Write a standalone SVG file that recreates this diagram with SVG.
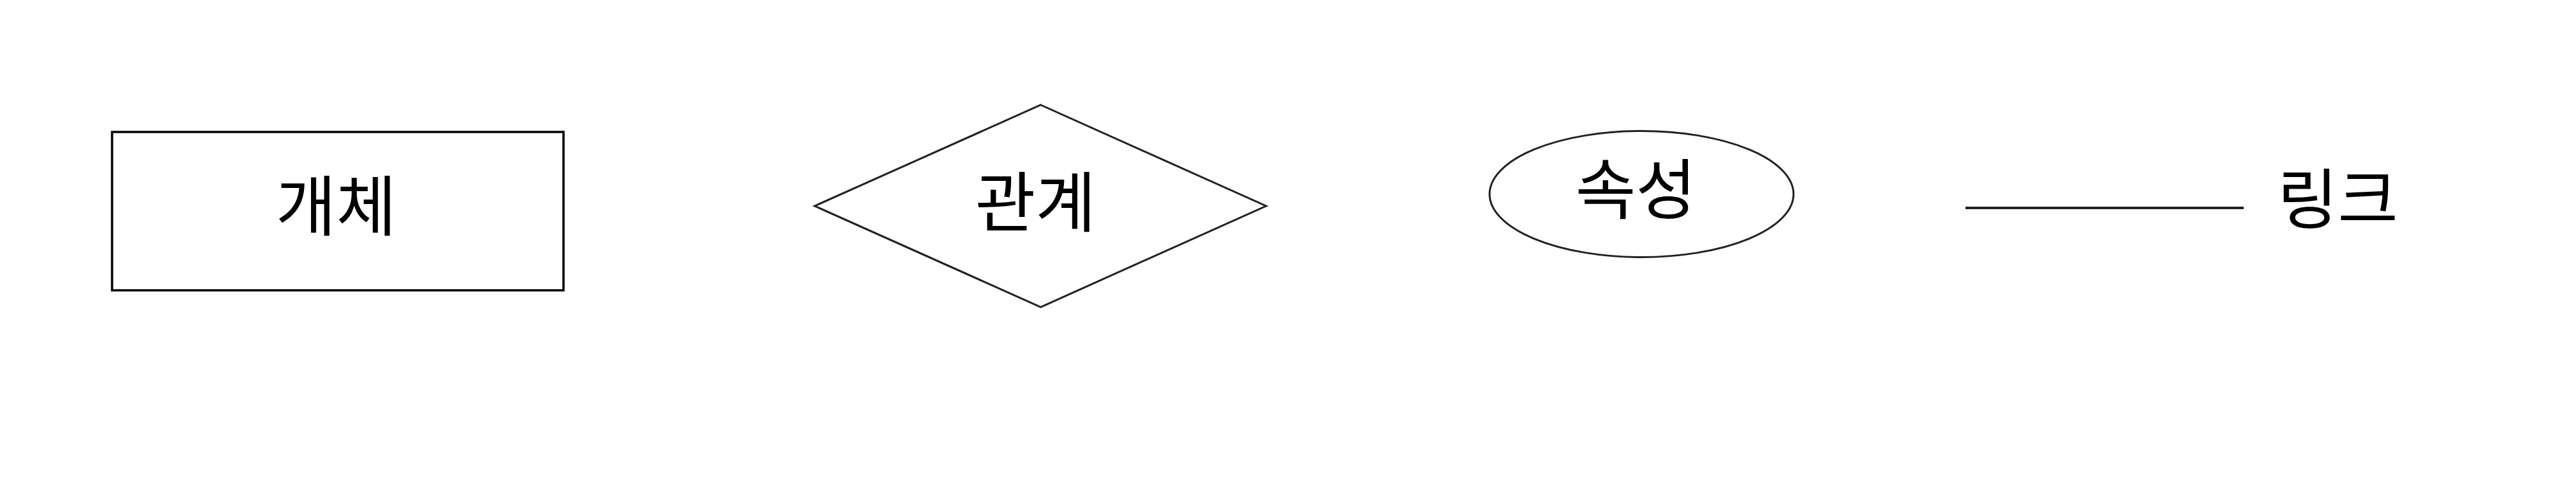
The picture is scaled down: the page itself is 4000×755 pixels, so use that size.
<svg xmlns="http://www.w3.org/2000/svg" width="4000" height="755" viewBox="0 0 4000 755">
<style>
.shape{fill:#ffffff;stroke:#000000;stroke-width:3.5}
.lbl{font-family:"Noto Sans CJK KR","Noto Sans",sans-serif;font-size:102px;fill:#000000;text-anchor:middle}
.link{stroke:#222222;stroke-width:4;fill:none}
</style>
<rect width="4000" height="755" fill="#ffffff"/>
<g id="entity">
<rect class="shape" x="174" y="205" width="701" height="246"/>
<text class="lbl" x="522" y="358">개체</text>
</g>
<g id="relationship">
<polygon class="shape" style="stroke:#222222;stroke-width:3" points="1616,163 1966,320 1616,477 1265,320"/>
<text class="lbl" x="1608" y="352">관계</text>
</g>
<g id="attribute">
<ellipse class="shape" style="stroke:#222222;stroke-width:3" cx="2549" cy="301.5" rx="236" ry="98"/>
<text class="lbl" x="2540" y="332">속성</text>
</g>
<g id="connectors">
<line class="link" x1="3052" y1="323" x2="3484" y2="323"/>
</g>
<g id="link-label">
<text class="lbl" x="3630" y="347">링크</text>
</g>
</svg>
